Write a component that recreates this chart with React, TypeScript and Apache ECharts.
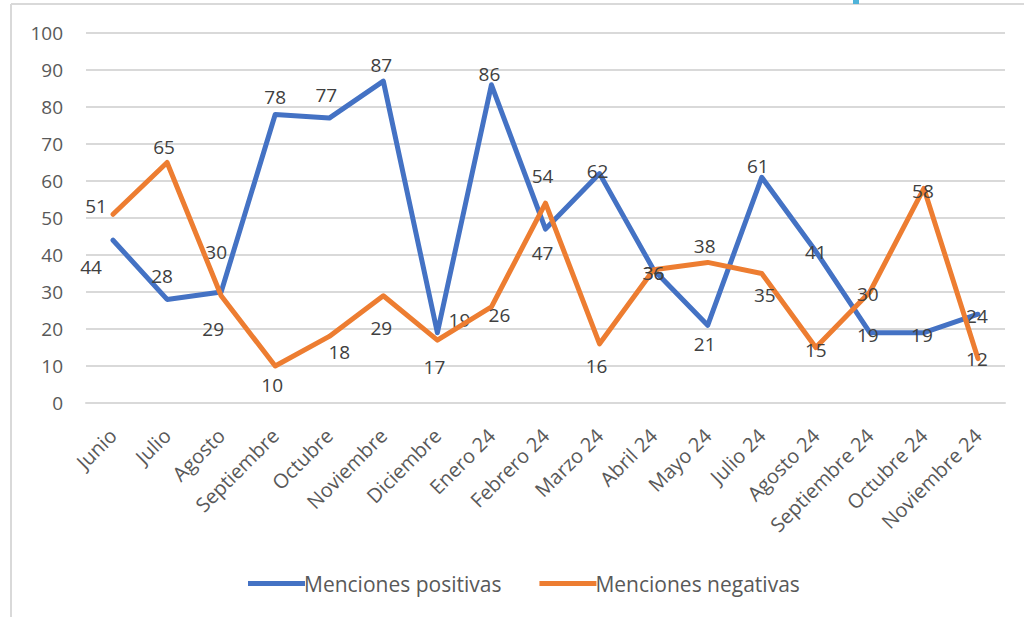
import React, { useEffect, useRef } from "react";
import * as echarts from "echarts";

const categories = [
  "Junio", "Julio", "Agosto", "Septiembre", "Octubre", "Noviembre", "Diciembre",
  "Enero 24", "Febrero 24", "Marzo 24", "Abril 24", "Mayo 24", "Julio 24",
  "Agosto 24", "Septiembre 24", "Octubre 24", "Noviembre 24",
];
const positivas = [44, 28, 30, 78, 77, 87, 19, 86, 47, 62, 36, 21, 61, 41, 19, 19, 24];
const negativas = [51, 65, 29, 10, 18, 29, 17, 26, 54, 16, 36, 38, 35, 15, 30, 58, 12];
const yTicks = [0, 10, 20, 30, 40, 50, 60, 70, 80, 90, 100];

// label placement (layout only)
const posOffsets: [number, number][] = [
  [-22, 27], [-5, -23], [-5, -40], [0, -17], [-3, -23], [-2, -16], [22, -13],
  [-2, -11], [-3, 24], [-2, -3], [0, 3], [-3, 19], [-4, -11], [0, 1], [-2, 2], [-2, 2], [-1, 2],
];
const negOffsets: [number, number][] = [
  [-17, -8], [-3, -16], [-8, 33], [-3, 19], [10, 16], [-2, 32], [-3, 27],
  [8, 8], [-3, -27], [-3, 22], [0, 3], [-3, -16], [3, 21], [0, 2], [-2, 2], [-1, 3], [-1, 0],
];

const FONT = "'Open Sans', Lato, sans-serif";

export default function App() {
  const ref = useRef<HTMLDivElement>(null);
  useEffect(() => {
    if (!ref.current) return;
    const chart = echarts.init(ref.current, undefined, { renderer: "svg" });
    const mk = (vals: number[], offs: [number, number][]) =>
      vals.map((v, i) => ({ value: v, label: { offset: offs[i] } }));
    const labelStyle = {
      show: true,
      position: "inside",
      align: "center",
      verticalAlign: "middle",
      color: "#404040",
      fontSize: 19,
      fontFamily: FONT,
    };
    chart.setOption({
      animation: false,
      backgroundColor: "#ffffff",
      grid: { left: 86, right: 19, top: 33, bottom: 214, containLabel: false },
      xAxis: {
        type: "category",
        data: categories,
        boundaryGap: true,
        axisTick: { show: false },
        axisLine: { show: true, lineStyle: { color: "#d9d9d9", width: 2 } },
        axisLabel: {
          interval: 0,
          rotate: 45,
          margin: 29,
          color: "#595959",
          fontSize: 20,
          fontFamily: FONT,
        },
      },
      yAxis: {
        type: "value",
        min: 0,
        max: 100,
        interval: 10,
        axisLine: { show: false },
        axisTick: { show: false },
        splitLine: { lineStyle: { color: "#d9d9d9", width: 2 } },
        axisLabel: {
          margin: 23,
          color: "#595959",
          fontSize: 19,
          fontFamily: FONT,
          formatter: (v: number) => (yTicks.includes(v) ? String(v) : ""),
        },
      },
      legend: {
        left: 243,
        top: 568,
        icon: "rect",
        itemWidth: 57,
        itemHeight: 5,
        itemGap: 38,
        textStyle: { color: "#595959", fontSize: 21, fontFamily: FONT, padding: [0, 0, 0, -6] },
        data: ["Menciones positivas", "Menciones negativas"],
      },
      series: [
        {
          name: "Menciones positivas",
          type: "line",
          data: mk(positivas, posOffsets),
          symbol: "circle",
          symbolSize: 1,
          showSymbol: true,
          itemStyle: { color: "#4472C4" },
          lineStyle: { color: "#4472C4", width: 5, cap: "round", join: "round" },
          label: labelStyle,
          z: 2,
        },
        {
          name: "Menciones negativas",
          type: "line",
          data: mk(negativas, negOffsets),
          symbol: "circle",
          symbolSize: 1,
          showSymbol: true,
          itemStyle: { color: "#ED7D31" },
          lineStyle: { color: "#ED7D31", width: 5, cap: "round", join: "round" },
          label: labelStyle,
          z: 3,
        },
      ],
      graphic: [
        { type: "line", shape: { x1: 11, y1: 4, x2: 1024, y2: 4 }, style: { stroke: "#d9d9d9", lineWidth: 2 } },
        { type: "line", shape: { x1: 11, y1: 4, x2: 11, y2: 617 }, style: { stroke: "#d9d9d9", lineWidth: 2 } },
        { type: "rect", shape: { x: 853, y: 0, width: 6, height: 4 }, style: { fill: "#4fb3d9" } },
      ],
    });
    return () => chart.dispose();
  }, []);
  return (
    <div
      ref={ref}
      style={{ position: "fixed", left: 0, top: 0, width: 1024, height: 617 }}
    />
  );
}
